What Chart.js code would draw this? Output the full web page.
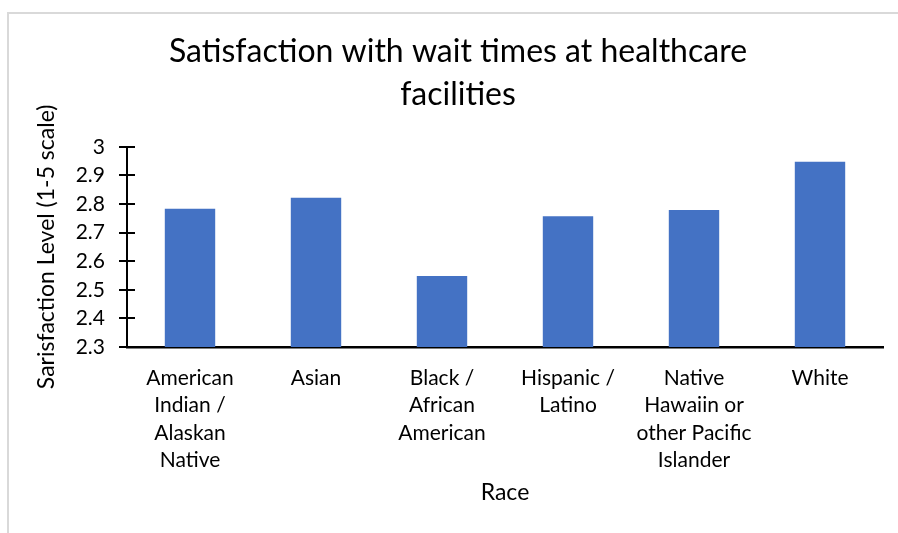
<!DOCTYPE html>
<html>
<head>
<meta charset="utf-8">
<script src="https://cdn.jsdelivr.net/npm/chart.js@4/dist/chart.umd.min.js"></script>
<style>
    html, body { margin: 0; padding: 0; background: #fff; overflow: hidden; }
    #wrap { position: relative; width: 898px; height: 533px; }
    #frame {
        position: absolute; left: 7px; top: 12px; width: 1000px; height: 1000px;
        border: 2px solid #d9d9d9; box-sizing: border-box;
    }
    #chart { position: absolute; left: 0; top: 0; }
</style>
</head>
<body>
<div id="wrap">
    <div id="frame"></div>
    <canvas id="chart" width="898" height="533"></canvas>
</div>
<script>
const races = [
    ['American', 'Indian /', 'Alaskan', 'Native'],
    ['Asian'],
    ['Black /', 'African', 'American'],
    ['Hispanic /', 'Latino'],
    ['Native', 'Hawaiin or', 'other Pacific', 'Islander'],
    ['White']
];
const satisfaction = [2.783, 2.822, 2.548, 2.757, 2.779, 2.948];
const yMin = 2.3;
const yMax = 3;
const yStep = 0.1;

const fontFamily = "Lato, 'Open Sans', sans-serif";
const barColor = '#4472C4';

// small ticks that cross the y axis line (Chart.js only draws them outside)
const crossTicks = {
    id: 'crossTicks',
    afterDraw(chart) {
        const y = chart.scales.y;
        const ctx = chart.ctx;
        ctx.save();
        ctx.strokeStyle = '#000';
        ctx.lineWidth = 2;
        y.ticks.forEach(t => {
            const py = Math.round(y.getPixelForValue(t.value));
            ctx.beginPath();
            ctx.moveTo(y.right, py);
            ctx.lineTo(y.right + 8, py);
            ctx.stroke();
        });
        ctx.restore();
    }
};

new Chart(document.getElementById('chart').getContext('2d'), {
    type: 'bar',
    data: {
        labels: races,
        datasets: [{
            data: satisfaction,
            backgroundColor: barColor,
            categoryPercentage: 1,
            barPercentage: 0.4
        }]
    },
    options: {
        responsive: false,
        animation: false,
        layout: { padding: { left: 33, right: 15, top: 0, bottom: 0 } },
        plugins: {
            legend: { display: false },
            tooltip: { enabled: false },
            title: {
                display: true,
                text: ['Satisfaction with wait times at healthcare', 'facilities'],
                color: '#000',
                font: { family: fontFamily, size: 32, weight: 'normal', lineHeight: 1.34 },
                padding: { top: 30, bottom: 31 }
            }
        },
        scales: {
            x: {
                afterFit(scale) { scale.height = 186; },
                border: { color: '#000', width: 2.5 },
                grid: { display: false, drawTicks: false },
                ticks: {
                    color: '#000',
                    padding: 17,
                    maxRotation: 0,
                    autoSkip: false,
                    font: { family: fontFamily, size: 21, lineHeight: 1.31 }
                },
                title: {
                    display: true,
                    text: 'Race',
                    color: '#000',
                    font: { family: fontFamily, size: 23, lineHeight: 1.2 },
                    padding: { top: 0, bottom: 27 }
                }
            },
            y: {
                min: yMin,
                max: yMax,
                afterFit(scale) { scale.width = 94; },
                border: { color: '#000', width: 2 },
                grid: {
                    drawOnChartArea: false,
                    drawTicks: true,
                    tickLength: 8,
                    color: '#000',
                    lineWidth: 2
                },
                ticks: {
                    stepSize: yStep,
                    color: '#000',
                    padding: 14,
                    font: { family: fontFamily, size: 21 },
                    callback: v => String(Number(v.toFixed(1)))
                },
                title: {
                    display: true,
                    text: 'Sarisfaction Level (1-5 scale)',
                    color: '#000',
                    font: { family: fontFamily, size: 23, lineHeight: 1.2 },
                    padding: { top: 0, bottom: 0 }
                }
            }
        }
    },
    plugins: [crossTicks]
});
</script>
</body>
</html>
